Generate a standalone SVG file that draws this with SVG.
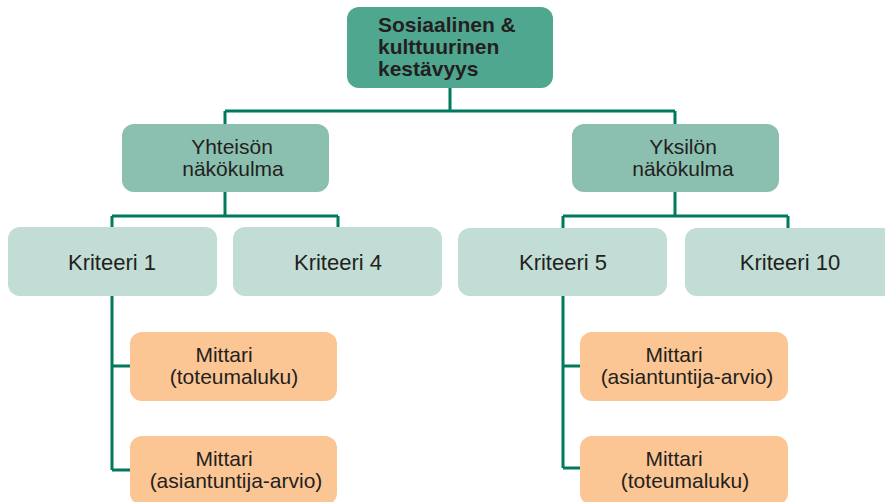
<svg xmlns="http://www.w3.org/2000/svg" width="885" height="502" viewBox="0 0 885 502">
<style>
text{font-family:"Liberation Sans",Arial,sans-serif;fill:#231f20;font-size:21px}
.b{font-weight:bold;font-size:21px}
.m{text-anchor:middle}
.l0{fill:#4fa78f}
.l1{fill:#8bbfb0}
.l2{fill:#c1ddd5}
.l3{fill:#fbc594}
.k{font-size:22px}
.c{fill:none;stroke:#007a5c;stroke-width:3}
</style>
<rect width="885" height="502" fill="#ffffff"/>
<g id="connectors" class="c">
<path d="M450 88V111M225 111H675M225 111V124M675 111V124"/>
<path d="M225 192V216M112 216H338M112 216V228M338 216V228"/>
<path d="M675 192V216M563 216H788M563 216V228M788 216V228"/>
<path d="M112 296V470M112 366H130M112 470H130"/>
<path d="M563 296V468M563 366H580M563 468H580"/>
</g>
<g id="n-top">
<rect class="l0" x="347" y="7" width="206" height="81" rx="12"/>
<text class="b" x="378" y="32">Sosiaalinen &amp;</text>
<text class="b" x="378" y="54">kulttuurinen</text>
<text class="b" x="378" y="76">kestävyys</text>
</g>
<g id="n-yhteison">
<rect class="l1" x="122" y="124" width="207" height="68" rx="12"/>
<text class="m" x="232" y="154">Yhteisön</text>
<text class="m" x="233" y="176">näkökulma</text>
</g>
<g id="n-yksilon">
<rect class="l1" x="572" y="124" width="207" height="68" rx="12"/>
<text class="m" x="683" y="154">Yksilön</text>
<text class="m" x="683" y="176">näkökulma</text>
</g>
<g id="n-k1">
<rect class="l2" x="8" y="227" width="209" height="69" rx="12"/>
<text class="m k" x="112" y="270">Kriteeri 1</text>
</g>
<g id="n-k4">
<rect class="l2" x="233" y="227" width="209" height="69" rx="12"/>
<text class="m k" x="338" y="270">Kriteeri 4</text>
</g>
<g id="n-k5">
<rect class="l2" x="458" y="228" width="209" height="68" rx="12"/>
<text class="m k" x="563" y="270">Kriteeri 5</text>
</g>
<g id="n-k10">
<rect class="l2" x="685" y="228" width="209" height="68" rx="12"/>
<text class="m k" x="790" y="270">Kriteeri 10</text>
</g>
<g id="n-m1">
<rect class="l3" x="130" y="332" width="207" height="69" rx="12"/>
<text class="m" x="224" y="362">Mittari</text>
<text class="m" x="234" y="384">(toteumaluku)</text>
</g>
<g id="n-m2">
<rect class="l3" x="130" y="436" width="207" height="69" rx="12"/>
<text class="m" x="224" y="466">Mittari</text>
<text class="m" x="236" y="488">(asiantuntija-arvio)</text>
</g>
<g id="n-m3">
<rect class="l3" x="580" y="332" width="208" height="69" rx="12"/>
<text class="m" x="674" y="362">Mittari</text>
<text class="m" x="687" y="384">(asiantuntija-arvio)</text>
</g>
<g id="n-m4">
<rect class="l3" x="580" y="436" width="208" height="69" rx="12"/>
<text class="m" x="674" y="466">Mittari</text>
<text class="m" x="685" y="488">(toteumaluku)</text>
</g>
</svg>
